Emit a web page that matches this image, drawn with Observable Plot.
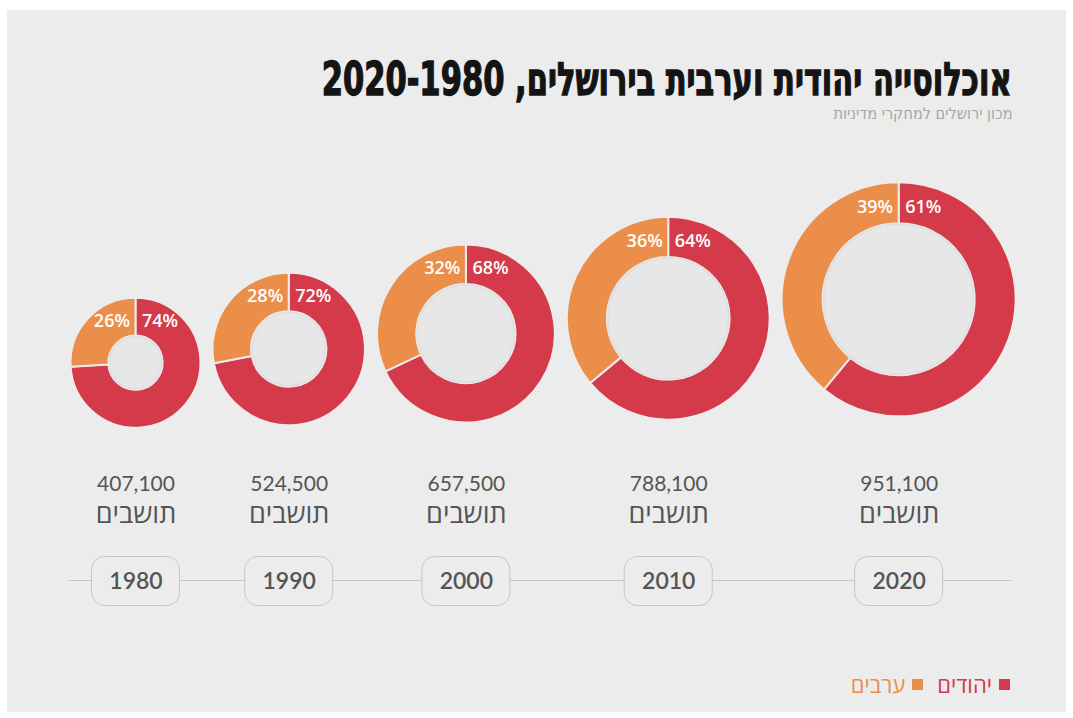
<!DOCTYPE html>
<html><head><meta charset="utf-8">
<script src="https://cdn.jsdelivr.net/npm/d3@7"></script>
<script src="https://cdn.jsdelivr.net/npm/@observablehq/plot@0.6"></script>
<style>
html,body{margin:0;padding:0;background:#fff;width:1073px;height:718px;overflow:hidden;position:relative}
#panel{position:absolute;left:7px;top:10px;width:1059px;height:702px;background:#ececec}
#title{position:absolute;right:61px;top:56px;font-family:'Liberation Sans Narrow','DejaVu Sans Condensed',sans-serif;font-weight:bold;font-size:46px;line-height:1;white-space:nowrap;color:#141414;direction:rtl;transform-origin:right center;-webkit-text-stroke:1.3px #141414}
#subtitle{position:absolute;right:61px;top:106px;font-family:'Liberation Sans Narrow','DejaVu Sans Condensed',sans-serif;font-size:16px;line-height:1;white-space:nowrap;color:#a6a6a6;direction:rtl;transform-origin:right center}
#chart{position:absolute;left:7px;top:140px}
#legend{position:absolute;right:63px;top:671px;height:26px;display:flex;align-items:center;direction:rtl;font-family:'Open Sans','DejaVu Sans',sans-serif;font-size:22px;line-height:26px}
#legend .sw{width:11px;height:11px;display:inline-block}
</style></head><body>
<div id="panel"></div>
<div id="title">אוכלוסייה יהודית וערבית בירושלים, 2020-1980</div>
<div id="subtitle">מכון ירושלים למחקרי מדיניות</div>
<div id="chart"></div>
<div id="legend"></div>
<script>
// ---- data ----
const years = [1980, 1990, 2000, 2010, 2020];
const population = [407100, 524500, 657500, 788100, 951100];
const jewishPct = [74, 72, 68, 64, 61];
const arabPct = [26, 28, 32, 36, 39];
const seriesNames = ["יהודים", "ערבים"];
const residentsLabel = "תושבים";
const colors = ["#d43a4a", "#ea8e4a"];

// ---- layout ----
const W = 1059, H = 480;
const rScale = d3.scaleLinear().domain([d3.min(population), d3.max(population)]).range([65, 117]);
const rows = years.map((year, i) => {
  const r = rScale(population[i]);
  const ri = r - (34 + 0.06 * r);
  const cy = 302 - 1.22 * r;
  return {year, pop: population[i], jew: jewishPct[i], arab: arabPct[i], r, ri, cy,
          labelY: cy - r + (r - ri) / 2 + 4};
});
const gap = 12;
let acc = 63.5 + rows[0].r;
const centers = rows.map((d, i) => { if (i > 0) acc += rows[i - 1].r + gap + d.r; return acc; });

const font = "Lato, 'Open Sans', 'DejaVu Sans', sans-serif";

function donuts(index, scales) {
  const g = d3.create("svg:g");
  for (const d of rows) {
    const cx = scales.x(d.year);
    const gg = g.append("g").attr("transform", `translate(${cx},${d.cy})`);
    const split = 2 * Math.PI * d.jew / (d.jew + d.arab);
    const arc = d3.arc().innerRadius(d.ri).outerRadius(d.r);
    gg.append("path").attr("d", arc({startAngle: 0, endAngle: split}))
      .attr("fill", colors[0]).attr("stroke", "#ececec").attr("stroke-width", 2);
    gg.append("path").attr("d", arc({startAngle: split, endAngle: 2 * Math.PI}))
      .attr("fill", colors[1]).attr("stroke", "#ececec").attr("stroke-width", 2);
    gg.append("circle").attr("r", d.ri - 1).attr("fill", "#e7e7e7")
      .attr("stroke", "#dedede").attr("stroke-width", 1.5);
  }
  return g.node();
}

function pills(index, scales) {
  const g = d3.create("svg:g");
  for (const d of rows) {
    const cx = scales.x(d.year);
    g.append("rect").attr("x", cx - 44).attr("y", 416.5).attr("width", 88).attr("height", 49)
      .attr("rx", 13).attr("fill", "#ececec").attr("stroke", "#c6c6c6").attr("stroke-width", 1);
  }
  return g.node();
}

const chart = Plot.plot({
  width: W, height: H, margin: 0,
  x: {type: "linear", domain: years, range: centers, axis: null},
  y: {type: "linear", domain: [0, H], range: [0, H], axis: null},
  style: {background: "transparent", fontFamily: font, overflow: "visible"},
  marks: [
    Plot.ruleY([440], {stroke: "#c6c6c6", strokeWidth: 1, insetLeft: 61, insetRight: 54}),
    donuts,
    Plot.text(rows, {x: "year", y: "labelY", text: d => d.jew + "%", dx: 6, textAnchor: "start",
      fill: "white", fontSize: 18, fontWeight: 600, fontFamily: "'Open Sans', Lato, sans-serif"}),
    Plot.text(rows, {x: "year", y: "labelY", text: d => d.arab + "%", dx: -6, textAnchor: "end",
      fill: "white", fontSize: 18, fontWeight: 600, fontFamily: "'Open Sans', Lato, sans-serif"}),
    Plot.text(rows, {x: "year", y: () => 343.5, text: d => d3.format(",")(d.pop),
      fill: "#555", fontSize: 21}),
    Plot.text(rows, {x: "year", y: () => 374, text: () => residentsLabel,
      fill: "#555", fontSize: 27, fontFamily: "'Open Sans', 'DejaVu Sans', sans-serif"}),
    pills,
    Plot.text(rows, {x: "year", y: () => 441.5, text: d => String(d.year),
      fill: "#555", fontSize: 23, fontWeight: 600})
  ]
});
document.getElementById("chart").appendChild(chart);

// legend
const legend = d3.select("#legend");
seriesNames.forEach((name, i) => {
  legend.append("span").attr("class", "sw").style("background", colors[i])
    .style("margin-left", "7px").style("margin-right", i ? "14px" : "0");
  legend.append("span").text(name).style("color", colors[i]);
});

// fit title widths
function fit(id, target) {
  const el = document.getElementById(id);
  const w = el.getBoundingClientRect().width;
  el.style.transform = `scaleX(${target / w})`;
}
fit("title", 690);
fit("subtitle", 179);
</script>
</body></html>
